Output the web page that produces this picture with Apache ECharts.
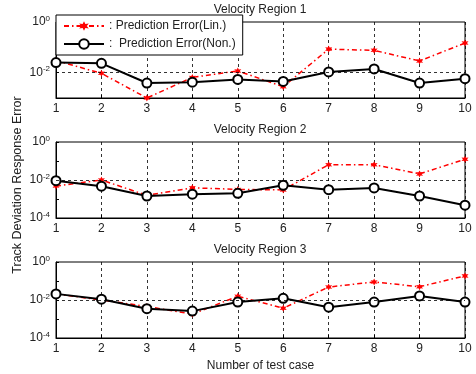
<!DOCTYPE html>
<html>
<head>
<meta charset="utf-8">
<script src="https://cdn.jsdelivr.net/npm/echarts@6/dist/echarts.min.js"></script>
<style>
  html, body { margin: 0; padding: 0; background: #fff; }
  #chart { width: 476px; height: 374px; }
</style>
</head>
<body>
<div id="chart"></div>
<script>
  // test cases on the x axis
  var cases = [1, 2, 3, 4, 5, 6, 7, 8, 9, 10]
  var regionTitles = ['Velocity Region 1', 'Velocity Region 2', 'Velocity Region 3']
  var yMins = [0.001, 0.0001, 0.0001]

  // prediction error, linear model
  var lin1 = [0.030, 0.0094, 0.001, 0.0065, 0.0117, 0.0028, 0.085, 0.076, 0.029, 0.148]
  var lin2 = [0.0048, 0.010, 0.00156, 0.0039, 0.0032, 0.0030, 0.064, 0.064, 0.021, 0.123]
  var lin3 = [0.021, 0.010, 0.0046, 0.0018, 0.0158, 0.0037, 0.048, 0.089, 0.050, 0.186]

  // prediction error, nonlinear model
  var non1 = [0.025, 0.0234, 0.0039, 0.0042, 0.0054, 0.0045, 0.0107, 0.014, 0.0039, 0.0058]
  var non2 = [0.0092, 0.0047, 0.00144, 0.0018, 0.0020, 0.0053, 0.0031, 0.0038, 0.00144, 0.00047]
  var non3 = [0.021, 0.011, 0.0035, 0.0026, 0.0078, 0.0123, 0.0042, 0.0078, 0.0163, 0.0078]

  var linData = [lin1, lin2, lin3]
  var nonData = [non1, non2, non3]

  var FONT = 'Liberation Sans, Arial, sans-serif'
  var starPath = 'path://M0,-10 L2.5,-4.3 L8.7,-5 L5,0 L8.7,5 L2.5,4.3 L0,10 L-2.5,4.3 L-8.7,5 L-5,0 L-8.7,-5 L-2.5,-4.3 Z'

  function pairs(arr) {
    return cases.map(function (c, i) { return [c, arr[i]] })
  }

  var gridTops = [22, 142, 262]
  var grids = [], xAxes = [], yAxes = [], series = [], titles = []

  gridTops.forEach(function (top, i) {
    grids.push({
      left: 56, top: top, width: 409, height: 76,
      show: true, borderColor: '#000', borderWidth: 1, backgroundColor: '#fff'
    })
    titles.push({
      text: regionTitles[i],
      left: 260, top: top - 18, textAlign: 'center', padding: 0,
      textStyle: { fontFamily: FONT, fontSize: 12, fontWeight: 'normal', color: '#222' }
    })
    xAxes.push({
      type: 'value', gridIndex: i, min: 1, max: 10, interval: 1,
      axisLine: { show: true, lineStyle: { color: '#000' } },
      axisTick: { inside: true, length: 3, lineStyle: { color: '#000' } },
      axisLabel: { margin: 5, fontFamily: FONT, fontSize: 12, color: '#222' },
      splitLine: { show: true, lineStyle: { color: '#000', type: [3, 3], width: 0.8 } },
      name: i === 2 ? 'Number of test case' : '',
      nameLocation: 'middle', nameGap: 22,
      nameTextStyle: { fontFamily: FONT, fontSize: 12, color: '#222' }
    })
    yAxes.push({
      type: 'log', logBase: 10, gridIndex: i, min: yMins[i], max: 1,
      axisLine: { show: true, lineStyle: { color: '#000' } },
      axisTick: { inside: true, length: 3, lineStyle: { color: '#000' } },
      splitLine: { show: false },
      axisLabel: {
        margin: 6, fontFamily: FONT, fontSize: 12, color: '#222',
        formatter: function (v) {
          var e = Math.round(Math.log10(v))
          if (e % 2 !== 0) return ''
          return '10{sup|' + e + '}'
        },
        rich: { sup: { fontFamily: FONT, fontSize: 8, color: '#222', verticalAlign: 'bottom', padding: [0, 0, 7, 0] } }
      }
    })
    series.push({
      name: 'Prediction Error(Lin.)',
      type: 'line', xAxisIndex: i, yAxisIndex: i,
      data: pairs(linData[i]),
      symbol: starPath, symbolSize: 7,
      itemStyle: { color: '#ff0000' },
      lineStyle: { color: '#ff0000', width: 1.5, type: [5, 3, 1.5, 3] },
      z: 3,
      markLine: {
        silent: true, symbol: 'none', label: { show: false },
        lineStyle: { color: '#000', type: [3, 3], width: 0.8 },
        data: [{ yAxis: 0.01 }]
      }
    })
    series.push({
      name: 'Prediction Error(Non.)',
      type: 'line', xAxisIndex: i, yAxisIndex: i,
      data: pairs(nonData[i]),
      symbol: 'emptyCircle', symbolSize: 9,
      itemStyle: { color: '#000', borderWidth: 1.6 },
      lineStyle: { color: '#000', width: 2 },
      z: 4
    })
  })

  var chart = echarts.init(document.getElementById('chart'))
  chart.setOption({
    animation: false,
    backgroundColor: '#fff',
    title: titles,
    legend: {
      data: ['Prediction Error(Lin.)', 'Prediction Error(Non.)'],
      orient: 'vertical', left: 56, top: 15,
      backgroundColor: '#fff', borderColor: '#000', borderWidth: 1,
      padding: [5, 7, 5, 7], itemGap: 6, itemWidth: 40, itemHeight: 12,
      formatter: function (name) {
        return name.indexOf('Non') >= 0 ? ':  ' + name : ': ' + name
      },
      textStyle: { fontFamily: FONT, fontSize: 12, color: '#222' }
    },
    // shared y axis title for the three panels
    graphic: [{
      type: 'text', x: 18, y: 185, rotation: Math.PI / 2,
      style: {
        text: 'Track Deviation Response Error',
        font: '12.5px ' + FONT, fill: '#222',
        align: 'center', verticalAlign: 'middle'
      }
    }],
    grid: grids,
    xAxis: xAxes,
    yAxis: yAxes,
    series: series
  })
</script>
</body>
</html>
